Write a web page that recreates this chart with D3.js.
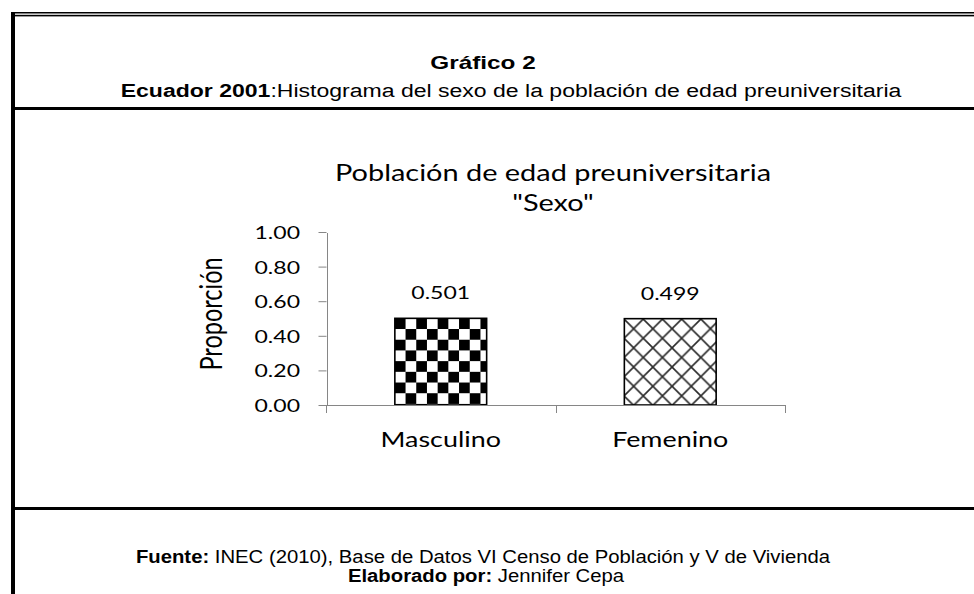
<!DOCTYPE html>
<html><head><meta charset="utf-8">
<script src="https://cdn.jsdelivr.net/npm/d3@7"></script>
<style>html,body{margin:0;padding:0;background:#fff;overflow:hidden}</style>
</head><body>
<svg id="c" width="974" height="594"></svg>
<script>
// ---- data ----
const categories = ["Masculino", "Femenino"];
const values = [0.501, 0.499];
const valueLabels = ["0.501", "0.499"];
const yTicks = [0, 0.2, 0.4, 0.6, 0.8, 1.0];
const headerTitle = "Gráfico 2";
const headerBold = "Ecuador 2001";
const headerRest = ":Histograma del sexo de la población de edad preuniversitaria";
const chartTitle = ["Población de edad preuniversitaria", "\"Sexo\""];
const yLabel = "Proporción";
const footer1Bold = "Fuente:";
const footer1Rest = " INEC (2010), Base de Datos VI Censo de Población y V de Vivienda";
const footer2Bold = "Elaborado por:";
const footer2Rest = " Jennifer Cepa";

const SX = 1.28;
const ARIAL = "'Liberation Sans', Arial, sans-serif";
const CAL = "Lato, 'Open Sans', sans-serif";

const svg = d3.select("#c");
svg.append("rect").attr("width", 974).attr("height", 594).attr("fill", "#fff");

// ---- frame ----
const frame = svg.append("g").attr("fill", "#000");
frame.append("rect").attr("x", 11).attr("y", 12).attr("width", 963).attr("height", 1.5);
frame.append("rect").attr("x", 15).attr("y", 14.8).attr("width", 959).attr("height", 1.6);
frame.append("rect").attr("x", 11).attr("y", 12).attr("width", 4).attr("height", 582);
frame.append("rect").attr("x", 15).attr("y", 107).attr("width", 959).attr("height", 3);
frame.append("rect").attr("x", 15).attr("y", 507).attr("width", 959).attr("height", 3);

function stext(x, y, parts, font, size, anchor, rot, sx) {
  const t = svg.append("text")
    .attr("transform", `translate(${x},${y}) scale(${sx || SX},1)` + (rot ? ` rotate(${rot})` : ""))
    .attr("font-family", font).attr("font-size", size)
    .attr("text-anchor", anchor || "middle").attr("fill", "#000");
  parts.forEach(p => t.append("tspan").attr("font-weight", p.b ? "bold" : "normal").text(p.t));
  return t;
}

// ---- header ----
stext(483, 69, [{t: headerTitle, b: true}], ARIAL, 19);
stext(511, 97, [{t: headerBold, b: true}, {t: headerRest}], ARIAL, 18);

// ---- footer ----
stext(483, 563, [{t: footer1Bold, b: true}, {t: footer1Rest}], ARIAL, 17.5, "middle", 0, 1.16);
stext(486, 582, [{t: footer2Bold, b: true}, {t: footer2Rest}], ARIAL, 17.5, "middle", 0, 1.16);

// ---- chart ----
const x = d3.scaleBand().domain(categories).range([326, 785]).paddingInner(0.6).paddingOuter(0.3);
const y = d3.scaleLinear().domain([0, 1]).range([405, 232]);

const defs = svg.append("defs");
const cell = 10.7;
const P = 19.2;
// checkerboard
const bx0 = x(categories[0]), by0 = y(values[0]);
const pc = defs.append("pattern").attr("id", "checker").attr("patternUnits", "userSpaceOnUse")
  .attr("width", cell * 2).attr("height", cell * 2)
  .attr("patternTransform", `translate(${bx0},${by0})`);
pc.append("rect").attr("width", cell * 2).attr("height", cell * 2).attr("fill", "#fff");
pc.append("rect").attr("width", cell).attr("height", cell).attr("fill", "#000");
pc.append("rect").attr("x", cell).attr("y", cell).attr("width", cell).attr("height", cell).attr("fill", "#000");
// crosshatch
const bx1 = x(categories[1]), by1 = y(values[1]);
const ph = defs.append("pattern").attr("id", "cross").attr("patternUnits", "userSpaceOnUse")
  .attr("width", P).attr("height", P)
  .attr("patternTransform", `translate(${bx1 + 9.3},${by1 + 10})`);
ph.append("rect").attr("width", P).attr("height", P).attr("fill", "#fff");
ph.append("path").attr("d", `M-1,-1L${P+1},${P+1}M${P+1},-1L-1,${P+1}`)
  .attr("stroke", "#2a2a2a").attr("stroke-width", 1.6).attr("fill", "none");

const fills = ["url(#checker)", "url(#cross)"];

// title
stext(553, 181, [{t: chartTitle[0]}], CAL, 22.6);
stext(553, 211, [{t: chartTitle[1]}], CAL, 22.6);

// y axis
const yAxis = svg.append("g").attr("transform", "translate(326.5,0)")
  .call(d3.axisLeft(y).tickValues(yTicks).tickSizeInner(8).tickSizeOuter(0).tickFormat(""));
yAxis.selectAll("path,line").attr("stroke", "#868686").attr("stroke-width", 1);
yAxis.select(".domain").attr("shape-rendering", "crispEdges");

yTicks.forEach(v => {
  stext(300, y(v) + 7, [{t: d3.format(".2f")(v)}], CAL, 18, "end");
});

// bars
svg.selectAll("rect.bar").data(categories).join("rect").attr("class", "bar")
  .attr("x", d => x(d)).attr("y", (d, i) => y(values[i]))
  .attr("width", x.bandwidth()).attr("height", (d, i) => y(0) - y(values[i]))
  .attr("fill", (d, i) => fills[i]).attr("stroke", "#000").attr("stroke-width", 1.6);

// x axis
const bounds = [x.range()[0]].concat(categories.map(c => x(c) + x.bandwidth() / 2 + x.step() / 2));
const xa = svg.append("g").attr("stroke", "#868686").attr("stroke-width", 1);
xa.append("line").attr("x1", x.range()[0]).attr("x2", x.range()[1]).attr("y1", y(0) + 0.5).attr("y2", y(0) + 0.5);
bounds.forEach(b => xa.append("line").attr("x1", Math.round(b) + 0.5).attr("x2", Math.round(b) + 0.5)
  .attr("y1", y(0)).attr("y2", y(0) + 8));

// value labels
categories.forEach((c, i) => {
  stext(x(c) + x.bandwidth() / 2, y(values[i]) - 19, [{t: valueLabels[i]}], CAL, 18);
  stext(x(c) + x.bandwidth() / 2, 447, [{t: c}], CAL, 21);
});

// y label
stext(222, 314, [{t: yLabel}], CAL, 23.5, "middle", -90);
</script>
</body></html>
